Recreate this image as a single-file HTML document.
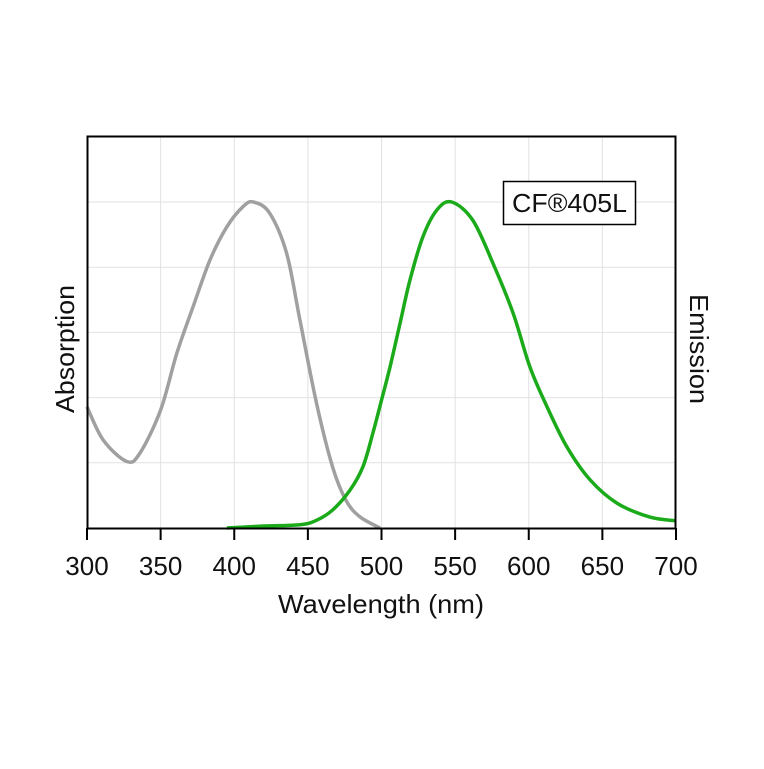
<!DOCTYPE html>
<html><head><meta charset="utf-8"><style>
body{margin:0;background:#fff;width:764px;height:764px;overflow:hidden}
text{font-family:"Liberation Sans",Arial,sans-serif;fill:#111}
</style></head><body>
<svg id="chart" width="764" height="764" viewBox="0 0 764 764" xmlns="http://www.w3.org/2000/svg">
<g id="grid"></g>
<g id="series"></g>
<rect x="87.5" y="136.5" width="588" height="392" fill="none" stroke="#000" stroke-width="2"/>
<g id="ticks"></g>
<text x="381" y="613" font-size="26" text-anchor="middle" textLength="206" lengthAdjust="spacingAndGlyphs">Wavelength (nm)</text>
<text transform="translate(74,349) rotate(-90)" font-size="26" text-anchor="middle" textLength="128" lengthAdjust="spacingAndGlyphs">Absorption</text>
<text transform="translate(690,349) rotate(90)" font-size="26" text-anchor="middle" textLength="110" lengthAdjust="spacingAndGlyphs">Emission</text>
<g>
<rect x="503.5" y="181.5" width="132" height="43" fill="#fff" stroke="#000" stroke-width="1.5"/>
<text x="569.5" y="212" font-size="26" text-anchor="middle" textLength="115" lengthAdjust="spacingAndGlyphs">CF®405L</text>
</g>
</svg>
<script>
const xTicks=[300,350,400,450,500,550,600,650,700];
const absX=[300,311,327,336,350,361,372,383.5,395,406,413,424,435.6,444.6,456,467,476,485.4,499];
const absY=[1.86,1.35,1.02,1.15,1.81,2.68,3.39,4.11,4.62,4.93,5,4.83,4.21,3.19,1.9,0.92,0.42,0.17,0.0];
const emX=[395,420,444.6,456,467,478.6,487.4,494.2,500,505.8,512.6,519.3,528,537.7,547.7,562,575.7,589.3,600.8,612.4,626,641.6,660,682,700];
const emY=[0.0,0.03,0.05,0.12,0.28,0.58,0.94,1.46,1.96,2.47,3.14,3.8,4.46,4.88,5,4.72,4.06,3.3,2.47,1.86,1.24,0.74,0.38,0.17,0.11];
const NS='http://www.w3.org/2000/svg';
const X=v=>87+(v-300)/400*589;
const Y=v=>528-v*65.2;
const grid=document.getElementById('grid'),ticks=document.getElementById('ticks'),series=document.getElementById('series');
function mk(t,a){const e=document.createElementNS(NS,t);for(const k in a)e.setAttribute(k,a[k]);return e;}
xTicks.forEach(t=>{
 const g=mk('line',{x1:X(t),x2:X(t),y1:136,y2:528,stroke:'#e2e2e2','stroke-width':1});
 
 
 grid.appendChild(g);
 const tk=mk('line',{x1:X(t),x2:X(t),y1:528,y2:540,stroke:'#000','stroke-width':2});
 
 
 ticks.appendChild(tk);
 const tx=mk('text',{x:X(t),y:575,'font-size':26,'text-anchor':'middle'});
 tx.textContent=t;
 
 
 ticks.appendChild(tx);
});
for(let i=1;i<=5;i++){
 const g=mk('line',{x1:87,x2:676,y1:Y(i),y2:Y(i),stroke:'#e2e2e2','stroke-width':1});
 
 
 grid.appendChild(g);
}
function path(xs,ys){
 const p=xs.map((x,i)=>[X(x),Y(ys[i])]);
 let d='M'+p[0][0]+','+p[0][1];
 for(let i=0;i<p.length-1;i++){
  const p0=p[i-1]||p[i],p1=p[i],p2=p[i+1],p3=p[i+2]||p2;
  const c1=[p1[0]+(p2[0]-p0[0])/6,p1[1]+(p2[1]-p0[1])/6];
  const c2=[p2[0]-(p3[0]-p1[0])/6,p2[1]-(p3[1]-p1[1])/6];
  d+=` C${c1[0]},${c1[1]} ${c2[0]},${c2[1]} ${p2[0]},${p2[1]}`;
 }
 return d;
}
const a=mk('path',{d:path(absX,absY),fill:'none',stroke:'#a0a0a0','stroke-width':3.5,'stroke-linejoin':'round'});


series.appendChild(a);
const e=mk('path',{d:path(emX,emY),fill:'none',stroke:'#1aaa1a','stroke-width':3.5,'stroke-linejoin':'round'});


series.appendChild(e);
</script>
</body></html>
